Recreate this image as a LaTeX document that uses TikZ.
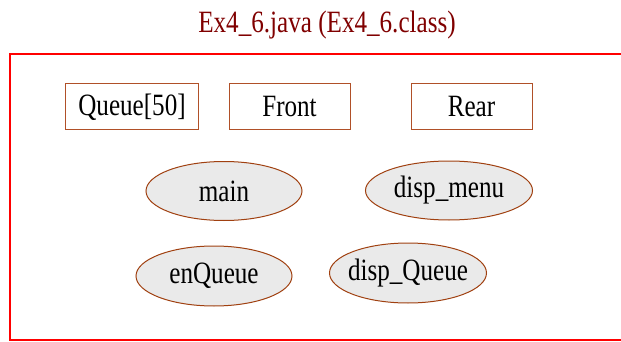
\documentclass[tikz,border=0pt]{standalone}
\usepackage{fontspec}
\usepackage{graphicx}
\setmainfont{Liberation Serif}
\usetikzlibrary{shapes.geometric}
\definecolor{titlered}{RGB}{128,0,0}
\definecolor{boxline}{RGB}{176,80,40}
\definecolor{ovalline}{RGB}{160,64,16}
\definecolor{ovalfill}{RGB}{234,234,234}
\definecolor{framered}{RGB}{255,0,0}
% narrow serif lettering
\newcommand{\condense}[1]{\scalebox{0.81}[1]{#1}}
% lettering that does not widen its oval
\newcommand{\ovaltext}[1]{\makebox[0pt]{\condense{#1}}}
\begin{document}
\begin{tikzpicture}[x=1pt,y=-1pt,
  lbl/.style={font=\fontsize{31}{33}\selectfont},
  field/.style={lbl, draw=boxline, line width=1pt, minimum height=46pt, inner sep=0pt},
  method/.style={lbl, ellipse, draw=ovalline, fill=ovalfill, line width=1pt,
                 minimum height=59pt, inner sep=0pt}]
\useasboundingbox (0,0) rectangle (621,342);
\clip (0,0) rectangle (621,342);

% class frame (runs off the right edge)
\draw[framered, line width=2pt] (10,54) rectangle (660,340);

% class name
\node[lbl, text=titlered, anchor=base, inner sep=0pt] (title) at (327,32.5)
  {\condense{Ex4\_6.java (Ex4\_6.class)}};

% fields
\node[field, minimum width=133pt] (queue) at (132,107) {\condense{Queue[50]}};
\node[field, minimum width=121pt] (front) at (289.5,107) {\condense{Front}};
\node[field, minimum width=121pt] (rear)  at (471.5,107) {\condense{Rear}};

% methods
\node[method, minimum width=156pt] (main)     at (224,191)   {\ovaltext{main}};
\node[method, minimum width=167pt] (dispmenu) at (449,190.5) {\ovaltext{disp\_menu}};
\node[method, minimum width=156pt, minimum height=60pt] (enqueue)   at (214,276) {\ovaltext{enQueue}};
\node[method, minimum width=157pt, minimum height=60pt] (dispqueue) at (408,273) {\ovaltext{disp\_Queue}};
\end{tikzpicture}
\end{document}
